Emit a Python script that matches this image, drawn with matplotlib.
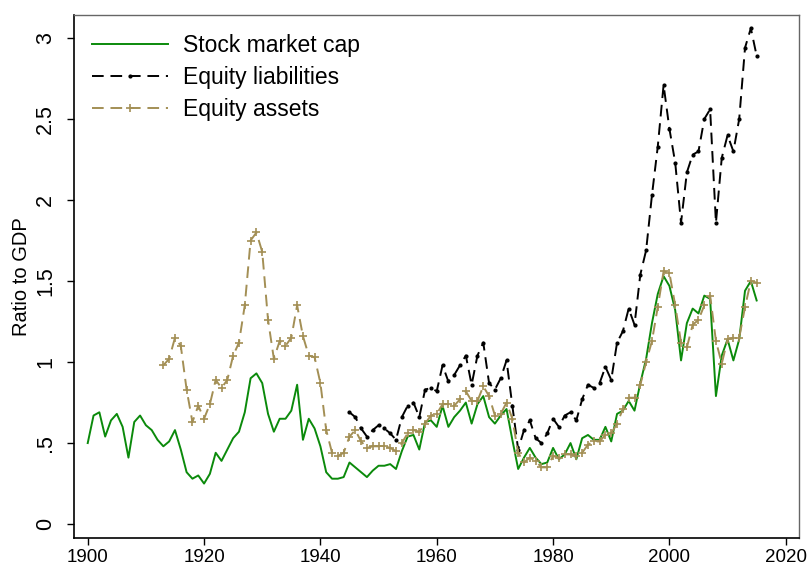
import numpy as np
import matplotlib
matplotlib.use("Agg")
import matplotlib.pyplot as plt

# --- data (ratio to GDP) ---
cap_years = np.arange(1900, 2016)
stock_market_cap = [
    0.50, 0.67, 0.69, 0.54, 0.64, 0.68, 0.60, 0.41, 0.63, 0.67,   # 1900s
    0.61, 0.58, 0.52, 0.48, 0.51, 0.58, 0.46, 0.32, 0.28, 0.30,   # 1910s
    0.25, 0.31, 0.44, 0.39, 0.46, 0.53, 0.57, 0.69, 0.90, 0.93,   # 1920s
    0.87, 0.68, 0.57, 0.65, 0.65, 0.70, 0.86, 0.52, 0.65, 0.59,   # 1930s
    0.48, 0.32, 0.28, 0.28, 0.29, 0.38, 0.35, 0.32, 0.29, 0.33,   # 1940s
    0.36, 0.36, 0.37, 0.34, 0.45, 0.54, 0.55, 0.46, 0.63, 0.64,   # 1950s
    0.60, 0.73, 0.60, 0.66, 0.70, 0.75, 0.62, 0.74, 0.79, 0.66,   # 1960s
    0.62, 0.67, 0.71, 0.52, 0.34, 0.41, 0.47, 0.41, 0.37, 0.38,   # 1970s
    0.47, 0.40, 0.43, 0.50, 0.40, 0.53, 0.55, 0.52, 0.52, 0.60,   # 1980s
    0.51, 0.68, 0.70, 0.76, 0.70, 0.87, 1.02, 1.24, 1.42, 1.53,   # 1990s
    1.47, 1.32, 1.01, 1.24, 1.33, 1.30, 1.41, 1.39, 0.79, 1.04,   # 2000s
    1.14, 1.01, 1.14, 1.44, 1.50, 1.38,                           # 2010s
]

liab_years = np.arange(1945, 2016)
equity_liabilities = [
    0.69, 0.66, 0.59, 0.54, 0.58,                                 # 1945-49
    0.61, 0.59, 0.56, 0.52, 0.66, 0.73, 0.75, 0.66, 0.83, 0.84,   # 1950s
    0.82, 0.98, 0.88, 0.92, 0.98, 1.04, 0.86, 1.04, 1.12, 0.87,   # 1960s
    0.83, 0.90, 1.01, 0.73, 0.46, 0.58, 0.64, 0.53, 0.50, 0.56,   # 1970s
    0.65, 0.60, 0.67, 0.69, 0.64, 0.77, 0.86, 0.84, 0.87, 0.97,   # 1980s
    0.89, 1.12, 1.19, 1.33, 1.23, 1.54, 1.69, 2.03, 2.33, 2.71,   # 1990s
    2.44, 2.23, 1.86, 2.17, 2.28, 2.30, 2.50, 2.56, 1.86, 2.26,   # 2000s
    2.40, 2.30, 2.50, 2.94, 3.06, 2.89,                           # 2010s
]

asset_years = np.arange(1913, 2016)
equity_assets = [
    0.98, 1.02, 1.15, 1.10, 0.83, 0.63, 0.73,                     # 1913-19
    0.65, 0.74, 0.89, 0.84, 0.89, 1.04, 1.12, 1.35, 1.75, 1.80,   # 1920s
    1.68, 1.26, 1.02, 1.13, 1.10, 1.15, 1.35, 1.16, 1.04, 1.03,   # 1930s
    0.87, 0.58, 0.44, 0.42, 0.44, 0.54, 0.58, 0.51, 0.47, 0.48,   # 1940s
    0.48, 0.48, 0.47, 0.45, 0.50, 0.56, 0.58, 0.57, 0.62, 0.67,   # 1950s
    0.68, 0.74, 0.74, 0.73, 0.77, 0.82, 0.76, 0.76, 0.85, 0.79,   # 1960s
    0.67, 0.68, 0.75, 0.65, 0.44, 0.38, 0.41, 0.39, 0.35, 0.35,   # 1970s
    0.42, 0.41, 0.43, 0.43, 0.42, 0.44, 0.49, 0.51, 0.51, 0.55,   # 1980s
    0.56, 0.62, 0.71, 0.78, 0.78, 0.86, 1.00, 1.13, 1.34, 1.56,   # 1990s
    1.55, 1.35, 1.12, 1.09, 1.23, 1.26, 1.35, 1.41, 1.13, 0.99,   # 2000s
    1.14, 1.15, 1.15, 1.34, 1.50, 1.49,                           # 2010s
]

x_ticks = [1900, 1920, 1940, 1960, 1980, 2000, 2020]
y_ticks = [0, 0.5, 1, 1.5, 2, 2.5, 3]
y_tick_labels = ["0", ".5", "1", "1.5", "2", "2.5", "3"]

GREEN = "#0b8a0b"
TAN = "#a38f55"
W, H = 808, 566

plt.rcParams["font.family"] = ["Liberation Sans", "DejaVu Sans"]

fig = plt.figure(figsize=(W / 100, H / 100), dpi=100)
# plot region in pixels: left 74, right 799, top 15, bottom 538
ax = fig.add_axes([74 / W, 1 - 538 / H, (799 - 74) / W, (538 - 15) / H])

ax.plot(cap_years, stock_market_cap, color=GREEN, lw=1.4, label="Stock market cap")
ax.plot(liab_years, equity_liabilities, color="black", lw=1.4, dashes=(6, 3.5),
        marker=".", markersize=4, label="Equity liabilities")
ax.plot(asset_years, equity_assets, color=TAN, lw=1.4, dashes=(6, 3.5),
        marker="+", markersize=6, markeredgewidth=1.2, label="Equity assets")

ax.set_xlim(1897.64, 2022.28)
ax.set_ylim(-0.086, 3.142)
ax.set_xticks(x_ticks)
ax.set_yticks(y_ticks)
ax.set_yticklabels(y_tick_labels, rotation=90, va="center")
ax.tick_params(axis="both", direction="out", length=5, width=1)
ax.tick_params(axis="y", pad=8, labelsize=15.5)
ax.tick_params(axis="x", pad=3, labelsize=13.5)
ax.set_ylabel("Ratio to GDP", fontsize=14.5, labelpad=3)

for side in ("left", "bottom"):
    ax.spines[side].set_color("black")
    ax.spines[side].set_linewidth(1.2)
for side in ("top", "right"):
    ax.spines[side].set_color("#666666")
    ax.spines[side].set_linewidth(1.0)

ax.legend(loc="upper left", bbox_to_anchor=(92 / W, 1 - 34 / H),
          bbox_transform=fig.transFigure, frameon=False, fontsize=16.5,
          handlelength=3.3, handletextpad=0.65, labelspacing=0.40,
          borderpad=0, borderaxespad=0, numpoints=1)

fig.savefig("out.png", dpi=100)
